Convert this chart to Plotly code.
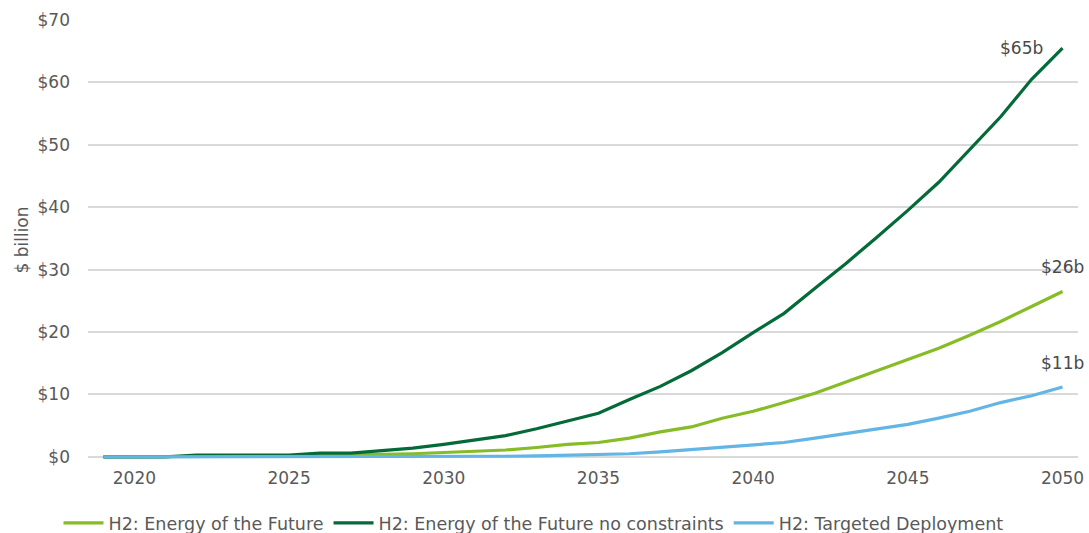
import plotly.graph_objects as go

years = list(range(2019, 2051))

energy_future = [0, 0, 0, 0.05, 0.1, 0.1, 0.15, 0.2, 0.3, 0.4, 0.5, 0.7, 0.9, 1.1, 1.5, 2.0,
                 2.3, 3.0, 4.0, 4.8, 6.2, 7.3, 8.7, 10.2, 12.0, 13.8, 15.6, 17.4, 19.5, 21.7, 24.1, 26.5]
energy_future_nc = [0, 0, 0, 0.3, 0.3, 0.3, 0.3, 0.6, 0.6, 1.0, 1.4, 2.0, 2.7, 3.4, 4.5, 5.7,
                    7.0, 9.2, 11.3, 13.8, 16.7, 19.9, 23.0, 27.0, 31.0, 35.2, 39.5, 44.0, 49.3, 54.5, 60.5, 65.5]
targeted = [0, 0, 0, 0, 0, 0, 0, 0, 0, 0, 0, 0, 0.05, 0.1, 0.15, 0.25,
            0.45, 0.5, 0.8, 1.2, 1.5, 1.9, 2.3, 3.0, 3.7, 4.4, 5.2, 6.2, 7.3, 8.7, 9.8, 11.2]

series_names = ["H2: Energy of the Future",
                "H2: Energy of the Future no constraints",
                "H2: Targeted Deployment"]
series_colors = ["#86BC25", "#046A38", "#62B5E5"]
end_labels = ["$26b", "$65b", "$11b"]

x_ticks = [2020, 2025, 2030, 2035, 2040, 2045, 2050]
y_ticks = [0, 10, 20, 30, 40, 50, 60, 70]
y_tick_text = ["$" + str(v) for v in y_ticks]

FONT = "DejaVu Sans"
GREY = "#595959"

fig = go.Figure()
for name, vals, col in zip(series_names, [energy_future, energy_future_nc, targeted], series_colors):
    fig.add_trace(go.Scatter(x=years, y=vals, mode="lines", name=name,
                             line=dict(color=col, width=3.2)))

# end-of-series value labels (the steep series gets its label set to the left)
offsets = [(0, 24), (-41, 0), (0, 24)]
for vals, lab, (dx, dy) in zip([energy_future, energy_future_nc, targeted], end_labels, offsets):
    fig.add_annotation(x=years[-1], y=vals[-1], text=lab, showarrow=False,
                       xshift=dx, yshift=dy, font=dict(family=FONT, size=17, color="#4a4a4a"))

fig.update_layout(
    width=1089, height=533,
    margin=dict(l=88, r=11, t=20, b=73, autoexpand=False),
    paper_bgcolor="white", plot_bgcolor="white",
    font=dict(family=FONT, size=17, color=GREY),
    showlegend=True,
    legend=dict(orientation="h", x=0.45, xanchor="center", y=-0.143, yanchor="middle",
                font=dict(family=FONT, size=17.5, color=GREY), itemwidth=40,
                traceorder="normal"),
)
fig.update_xaxes(range=[2018.5, 2050.5], tickvals=x_ticks,
                 showgrid=False, zeroline=False, showline=False, ticks="",
                 ticklabelstandoff=6, tickfont=dict(family=FONT, size=17, color=GREY))
fig.update_yaxes(range=[-0.5, 70], tickvals=y_ticks, ticktext=y_tick_text,
                 showgrid=True, gridcolor="#D9D9D9", gridwidth=1.5, zeroline=False,
                 showline=False, ticks="", ticklabelstandoff=17,
                 tickfont=dict(family=FONT, size=17, color=GREY),
                 title=dict(text="$ billion", standoff=4, font=dict(family=FONT, size=17, color=GREY)))

fig.write_html("out.html")
